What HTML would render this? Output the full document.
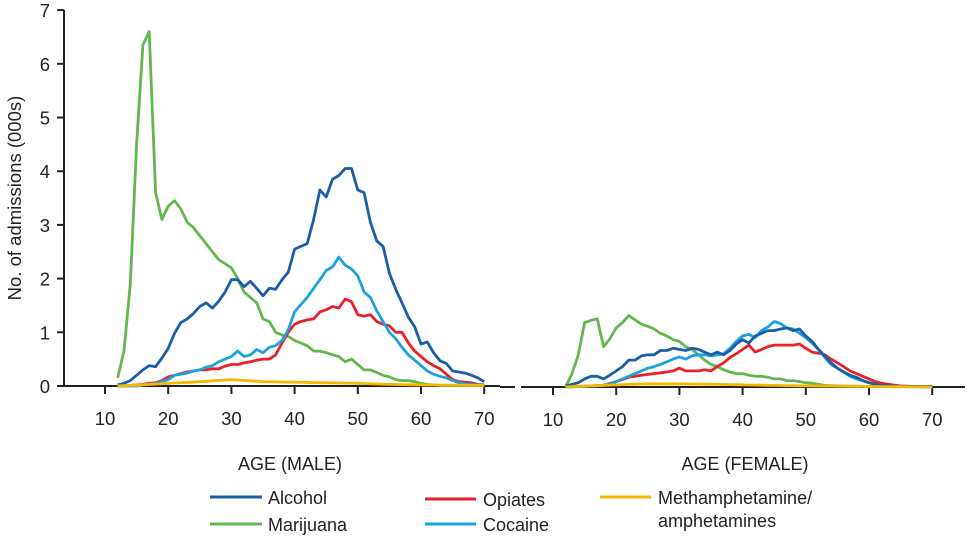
<!DOCTYPE html><html><head><style>body{margin:0;background:#fff}svg{display:block;font-family:"Liberation Sans",sans-serif}</style></head><body>
<svg id="s" width="967" height="542" viewBox="0 0 967 542">
<g stroke="#222" stroke-width="2" fill="none">
<line x1="64" y1="10" x2="64" y2="387"/><line x1="63" y1="386" x2="500" y2="386"/>
<line x1="500" y1="387" x2="515" y2="387"/><line x1="521" y1="387" x2="965" y2="387"/>
</g>
<g id="ticks" stroke="#222" stroke-width="2"></g>
<g id="labels" font-size="18.5" fill="#222"></g>
<text x="290" y="470" font-size="18" text-anchor="middle" fill="#222">AGE (MALE)</text>
<text x="745" y="470" font-size="18" text-anchor="middle" fill="#222">AGE (FEMALE)</text>
<text transform="translate(21,198) rotate(-90)" font-size="18.5" text-anchor="middle" fill="#222">No. of admissions (000s)</text>
<g stroke-width="3">
<line x1="210" y1="497" x2="262" y2="497" stroke="#1a5ea8"/>
<line x1="210" y1="524" x2="262" y2="524" stroke="#62b84f"/>
<line x1="425" y1="499" x2="476" y2="499" stroke="#e8212b"/>
<line x1="425" y1="524" x2="476" y2="524" stroke="#1aa3e0"/>
<line x1="600" y1="497" x2="651" y2="497" stroke="#f5b800"/>
</g>
<g font-size="18" fill="#222">
<text x="268" y="504">Alcohol</text><text x="268" y="531">Marijuana</text>
<text x="483" y="506">Opiates</text><text x="483" y="531">Cocaine</text>
<text x="658" y="504">Methamphetamine/</text><text x="658" y="527">amphetamines</text>
</g>
<g id="lines" fill="none" stroke-width="2.8" stroke-linejoin="round"></g>
</svg>
<script>
const NS="http://www.w3.org/2000/svg";
function el(p,t,a,txt){const e=document.createElementNS(NS,t);for(const k in a)e.setAttribute(k,a[k]);if(txt!=null)e.textContent=txt;p.appendChild(e);return e;}
const T=document.getElementById('ticks'),L=document.getElementById('labels'),G=document.getElementById('lines');
const Y0=386,U=53.7;
for(let v=0;v<=7;v++){const y=Y0-v*U;el(T,'line',{x1:57,x2:64,y1:y,y2:y});el(L,'text',{x:50,y:y+7,'text-anchor':'end'},v);}
const panels=[{x0:105,b:386},{x0:553,b:387}];
panels.forEach(p=>{for(let a=10;a<=70;a+=10){const x=p.x0+(a-10)*6.32;el(T,'line',{x1:x,x2:x,y1:p.b,y2:p.b+8});el(L,'text',{x:x,y:p.b+39,'text-anchor':'middle'},a);}});
function interp(pts){const k=Object.keys(pts).map(Number).sort((a,b)=>a-b);const out=[];for(let a=12;a<=70;a++){let v;if(pts[a]!=null)v=pts[a];else{let lo=k.filter(x=>x<a).pop(),hi=k.find(x=>x>a);if(lo==null)v=pts[hi];else if(hi==null)v=pts[lo];else v=pts[lo]+(pts[hi]-pts[lo])*(a-lo)/(hi-lo);}out.push([a,v]);}return out;}
function arr(s,start){const o={};s.split(',').forEach((v,i)=>o[start+i]=+v);return o;}
const male={
mar:arr("0.15,0.65,1.9,4.5,6.35,6.6,3.6,3.1,3.35,3.45,3.3,3.05,2.95,2.8,2.65,2.5,2.35,2.28,2.2,2.0,1.75,1.65,1.55,1.25,1.2,1.0,0.95,0.92,0.85,0.8,0.75,0.65,0.65,0.62,0.58,0.55,0.45,0.5,0.4,0.3,0.3,0.25,0.2,0.17,0.12,0.1,0.1,0.08,0.05,0.03,0.02,0.01,0.01,0.01,0.01,0.01,0.01,0.01,0.01",12),
coc:arr("0,0,0,0,0.02,0.03,0.05,0.08,0.12,0.2,0.22,0.24,0.28,0.3,0.35,0.38,0.45,0.5,0.55,0.65,0.55,0.58,0.68,0.62,0.72,0.75,0.85,1.05,1.38,1.52,1.65,1.82,1.98,2.15,2.22,2.4,2.25,2.18,2.05,1.75,1.65,1.4,1.2,1.0,0.88,0.72,0.58,0.48,0.38,0.28,0.22,0.18,0.15,0.1,0.06,0.04,0.03,0.02,0.01",12),
opi:arr("0,0,0.01,0.02,0.03,0.05,0.06,0.1,0.17,0.2,0.23,0.26,0.28,0.3,0.3,0.32,0.32,0.37,0.4,0.4,0.43,0.45,0.48,0.5,0.5,0.58,0.8,1.0,1.15,1.2,1.23,1.25,1.38,1.42,1.48,1.45,1.62,1.57,1.33,1.3,1.33,1.2,1.15,1.12,1.0,1.0,0.8,0.65,0.55,0.45,0.38,0.32,0.22,0.12,0.08,0.07,0.06,0.03,0.02",12),
alc:arr("0.02,0.05,0.1,0.2,0.3,0.38,0.36,0.52,0.7,0.98,1.18,1.25,1.35,1.48,1.55,1.45,1.58,1.75,1.98,1.98,1.85,1.95,1.82,1.68,1.82,1.8,1.98,2.12,2.55,2.6,2.65,3.1,3.65,3.52,3.85,3.92,4.05,4.05,3.65,3.6,3.05,2.7,2.6,2.1,1.8,1.55,1.28,1.1,0.78,0.82,0.62,0.47,0.42,0.28,0.26,0.24,0.2,0.15,0.08",12),
met:{12:0,16:0.02,20:0.05,25:0.08,30:0.12,35:0.08,40:0.07,50:0.05,55:0.03,60:0.02,70:0.01}
};
const fem={
mar:{12:0,13:0.25,14:0.6,15:1.2,16:1.24,17:1.27,18:0.75,19:0.9,20:1.1,21:1.2,22:1.33,23:1.25,24:1.17,25:1.13,26:1.08,27:1.0,28:0.95,29:0.88,30:0.85,31:0.75,32:0.7,33:0.6,34:0.5,35:0.42,36:0.38,37:0.32,38:0.28,39:0.25,40:0.25,41:0.22,42:0.2,43:0.2,44:0.18,45:0.15,46:0.15,47:0.12,48:0.12,49:0.1,50:0.08,51:0.07,52:0.05,53:0.03,55:0.02,60:0.01,70:0.01},
coc:{12:0,17:0.02,19:0.05,20:0.1,21:0.15,22:0.2,23:0.25,24:0.3,25:0.35,26:0.38,27:0.42,28:0.47,29:0.52,30:0.56,31:0.52,32:0.58,33:0.6,34:0.6,35:0.58,36:0.6,37:0.62,38:0.72,39:0.85,40:0.95,41:0.98,42:0.92,43:1.05,44:1.12,45:1.22,46:1.18,47:1.1,48:1.08,49:1.0,50:0.92,51:0.82,52:0.7,53:0.55,54:0.42,55:0.35,56:0.28,57:0.2,58:0.15,59:0.12,60:0.08,61:0.04,62:0.03,65:0.01,70:0},
opi:{12:0,18:0.03,20:0.1,22:0.18,24:0.22,26:0.25,28:0.28,29:0.3,30:0.35,31:0.3,32:0.3,33:0.3,34:0.32,35:0.3,36:0.38,37:0.45,38:0.55,39:0.62,40:0.7,41:0.78,42:0.65,43:0.7,44:0.75,45:0.78,46:0.78,47:0.78,48:0.78,49:0.8,50:0.72,51:0.65,52:0.63,53:0.6,54:0.52,55:0.45,56:0.38,57:0.3,58:0.25,59:0.2,60:0.15,61:0.1,62:0.07,63:0.05,65:0.02,70:0},
alc:{12:0.02,14:0.08,15:0.15,16:0.2,17:0.2,18:0.15,19:0.22,20:0.3,21:0.38,22:0.5,23:0.5,24:0.58,25:0.6,26:0.6,27:0.68,28:0.68,29:0.72,30:0.7,31:0.68,32:0.72,33:0.7,34:0.65,35:0.6,36:0.65,37:0.6,38:0.68,39:0.8,40:0.88,41:0.82,42:0.95,43:1.0,44:1.05,45:1.05,46:1.08,47:1.1,48:1.05,49:1.08,50:0.95,51:0.85,52:0.7,53:0.58,54:0.45,55:0.35,56:0.28,57:0.22,58:0.18,59:0.12,60:0.08,61:0.05,62:0.03,65:0.01,70:0.01},
met:{12:0,16:0.02,20:0.04,25:0.06,30:0.06,35:0.05,40:0.04,50:0.02,60:0.01,70:0}
};
const col={met:"#f5b800",mar:"#62b84f",opi:"#e8212b",coc:"#1aa3e0",alc:"#1a5ea8"};
[[male,panels[0]],[fem,panels[1]]].forEach(([d,p])=>{["mar","opi","coc","alc","met"].forEach(k=>{const pts=interp(d[k]).map(([a,v])=>(p.x0+(a-10)*6.32).toFixed(1)+","+(p.b-v*U).toFixed(1)).join(" ");el(G,'polyline',{points:pts,stroke:col[k]});});});
</script>
</body></html>
